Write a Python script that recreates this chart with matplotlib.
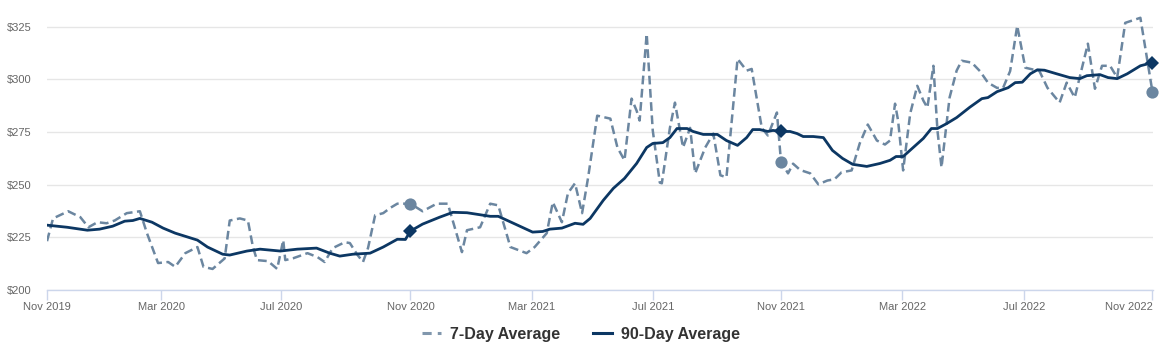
import matplotlib
matplotlib.use("Agg")
import matplotlib.pyplot as plt
from matplotlib.lines import Line2D

plt.rcParams['font.family'] = ['Liberation Sans', 'DejaVu Sans']

# days counted from the first weekly point (Nov 2019)
days_7 = [0, 6, 21, 33, 41, 50, 59, 67, 79, 92, 99, 110, 120, 127, 137, 149, 155, 164, 176, 181,
          191, 199, 204, 208, 219, 228, 234, 236, 244, 258, 268, 275, 283, 295, 300, 307, 313, 318,
          325, 333, 340, 347, 360, 372, 386, 397, 411, 416, 429, 439, 447, 459, 475, 483, 495, 501,
          510, 516, 523, 530, 536, 545, 558, 565, 572, 579, 584, 587, 594, 600, 607, 609, 617, 622,
          630, 637, 642, 652, 660, 667, 673, 684, 693, 698, 708, 714, 723, 727, 734, 739, 746, 756,
          764, 773, 780, 787, 797, 805, 813, 822, 830, 835, 840, 843, 848, 855, 862, 868, 872, 878,
          882, 886, 894, 901, 906, 916, 924, 932, 941, 947, 954, 961, 969, 983, 991, 1003, 1010,
          1018, 1031, 1038, 1045, 1053, 1060, 1068, 1083, 1095]
avg_7 = [223.2, 234, 237.4, 234.6, 229.8, 232.2, 231.7, 233, 236.5, 237.4, 227, 212.8, 213.3, 211,
         217.5, 220.4, 211, 210, 215, 233, 234, 233, 220.4, 214.2, 213.7, 210, 223.7, 214.2, 215.1,
         217.5, 215.6, 213.3, 219.9, 222.7, 222.3, 217, 213.3, 220, 235.5, 236.5, 239, 241, 241,
         237.4, 241, 241, 218, 228.4, 229.8, 241, 240.2, 220.4, 217.5, 220.4, 227, 241.7, 232.2, 246,
         250.7, 236.5, 253.5, 282.8, 281.4, 267.7, 261.6, 290.9, 285.2, 280.5, 321.7, 275.8, 251,
         250.7, 277, 289, 267.7, 277, 255.4, 267.7, 274.3, 254.5, 253.5, 309.8, 304.2, 305, 277,
         273.4, 284.3, 261, 255.4, 260, 257, 255.4, 250.2, 252, 252.6, 255.9, 256.8, 269.6, 278.6,
         271, 269.1, 271, 288.5, 280.5, 256.8, 283.8, 297, 290, 286.6, 306.5, 275.8, 258.2, 291.4,
         304.2, 308.9, 308, 304, 298.5, 296, 296, 304, 325.5, 305.6, 304, 296, 289, 298.5, 291.4,
         317, 295.6, 306.5, 306.5, 300.9, 326.9, 329.3, 294]

days_90 = [0, 20, 40, 52, 65, 77, 85, 92, 104, 115, 127, 149, 159, 174, 181, 198, 211, 231, 248,
           267, 280, 290, 303, 320, 333, 347, 355, 360, 372, 389, 402, 416, 439, 447, 462, 481, 491,
           498, 510, 523, 531, 538, 551, 561, 572, 584, 594, 600, 610, 617, 624, 634, 640, 650, 664,
           673, 684, 693, 699, 706, 714, 719, 727, 736, 743, 749, 759, 769, 778, 788, 798, 812, 825,
           835, 841, 848, 858, 868, 876, 882, 891, 901, 914, 926, 932, 941, 952, 959, 966, 974, 981,
           988, 1000, 1013, 1023, 1030, 1043, 1051, 1060, 1070, 1083, 1095]
avg_90 = [230.8, 229.8, 228.4, 228.9, 230.3, 232.7, 233, 234, 232.2, 229.4, 227, 223.7, 220.4, 217,
          216.6, 218.5, 219.4, 218.5, 219.4, 219.9, 217.5, 216.1, 217, 217.5, 220.4, 224.1, 224,
          228, 231.3, 234.6, 236.9, 236.7, 235, 235, 231.7, 227.5, 227.8, 228.9, 229.4, 231.7,
          231.2, 234, 242.6, 248.3, 253, 260.1, 267.7, 269.6, 270, 272.4, 276.7, 276.7, 275.3,
          273.9, 273.9, 271, 268.7, 272.4, 276.2, 276.2, 275.3, 275.8, 275.3, 275.3, 274.3, 272.9,
          272.9, 272.4, 266.3, 262.5, 259.7, 258.7, 260.1, 261.6, 263.4, 263.4, 267.7, 272, 276.7,
          276.7, 279, 281.9, 286.8, 290.9, 291.4, 294.2, 296.1, 298.5, 298.7, 302.7, 304.6, 304.4,
          302.7, 300.9, 300.4, 301.8, 302.3, 300.9, 300.4, 302.7, 306.5, 308]

# yearly markers (Nov each year)
mark_days = [360, 727, 1095]
mark_7 = [241, 261, 294]
mark_90 = [228, 275.3, 308]

tick_days = [0, 113, 232, 360, 480, 600, 727, 847, 968, 1095]
tick_labels = ['Nov 2019', 'Mar 2020', 'Jul 2020', 'Nov 2020', 'Mar 2021', 'Jul 2021',
               'Nov 2021', 'Mar 2022', 'Jul 2022', 'Nov 2022']
y_ticks = [200, 225, 250, 275, 300, 325]

c7 = '#6b86a0'
c90 = '#0c3763'

fig = plt.figure(figsize=(11.62, 3.53), dpi=100)
ax = fig.add_axes([47 / 1162, 63 / 353, 1106 / 1162, 280 / 353])

ax.plot(days_7, avg_7, color=c7, lw=1.8, linestyle=(0, (3.5, 1.8)), zorder=3)
ax.plot(days_90, avg_90, color=c90, lw=2.0, zorder=4)
ax.plot(mark_days, mark_7, 'o', color=c7, markersize=8.8, markeredgewidth=0, zorder=5,
        clip_on=False)
ax.plot(mark_days, mark_90, 'D', color=c90, markersize=7.2, markeredgewidth=0, zorder=6,
        clip_on=False)

ax.set_xlim(0, 1095.5)
ax.set_ylim(200, 333)
ax.set_yticks(y_ticks)
ax.set_yticklabels(['$%d' % v for v in y_ticks], ha='left')
ax.set_xticks(tick_days)
ax.set_xticklabels(tick_labels)
# last label is pushed inside the chart, like the original
ax.get_xticklabels()[-1].set_horizontalalignment('right')
ax.grid(axis='y', color='#e6e6e6', lw=1)
ax.set_axisbelow(True)

for s in ['top', 'right', 'left']:
    ax.spines[s].set_visible(False)
ax.spines['bottom'].set_color('#ccd6eb')
ax.spines['bottom'].set_linewidth(1)
ax.tick_params(axis='y', length=0, pad=29, labelsize=8, labelcolor='#666666')
ax.tick_params(axis='x', length=7, width=1, color='#ccd6eb', pad=2, labelsize=8,
               labelcolor='#666666')

handles = [Line2D([], [], color='#8197ad', lw=2.2, linestyle=(0, (3, 2))),
           Line2D([], [], color=c90, lw=2.2)]
fig.legend(handles, ['7-Day Average', '90-Day Average'], loc='center',
           bbox_to_anchor=(0.5, 19 / 353), ncol=2, frameon=False, handlelength=1.2,
           handletextpad=0.6, columnspacing=2.0,
           prop={'weight': 'bold', 'size': 11.5}, labelcolor='#333333')

fig.savefig('out.png', dpi=100)
